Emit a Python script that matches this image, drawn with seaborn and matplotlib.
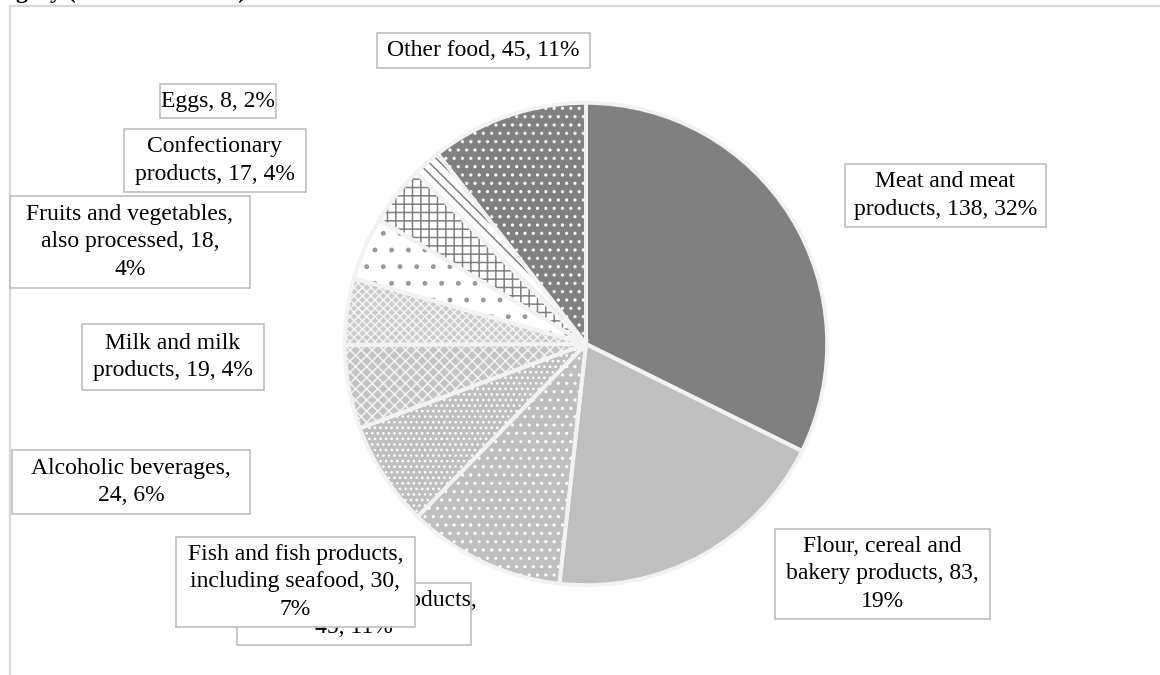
import matplotlib
matplotlib.use("Agg")
import matplotlib.pyplot as plt
import seaborn as sns
from matplotlib.patches import Rectangle
from matplotlib.lines import Line2D

# ---- data ----
categories = [
    "Meat and meat products",
    "Flour, cereal and bakery products",
    "Sugar and sugar products",
    "Fish and fish products, including seafood",
    "Alcoholic beverages",
    "Milk and milk products",
    "Fruits and vegetables, also processed",
    "Confectionary products",
    "Eggs",
    "Other food",
]
counts = [138, 83, 45, 30, 24, 19, 18, 17, 8, 45]
label_texts = [
    "Meat and meat\nproducts, 138, 32%",
    "Flour, cereal and\nbakery products, 83,\n19%",
    "Sugar and sugar products,\n45, 11%",
    "Fish and fish products,\nincluding seafood, 30,\n7%",
    "Alcoholic beverages,\n24, 6%",
    "Milk and milk\nproducts, 19, 4%",
    "Fruits and vegetables,\nalso processed, 18,\n4%",
    "Confectionary\nproducts, 17, 4%",
    "Eggs, 8, 2%",
    "Other food, 45, 11%",
]
title_text = "gory (number of cases)"

# ---- styles ----
face_colors = ["#808080", "#bfbfbf", "#bfbfbf", "#bfbfbf", "#c4c4c4",
               "#cacaca", "#ffffff", "#ffffff", "#ffffff", "#808080"]
hatches = [None, None, "..", "...", "xxx", "xxxx", ".", "++", "\\\\\\", ".."]
hatch_colors = ["#808080", "#bfbfbf", "#ffffff", "#ffffff", "#f4f4f4",
                "#f4f4f4", "#9a9a9a", "#808080", "#808080", "#ffffff"]

# label boxes in pixels: (left, top, right, bottom), drawn in this order
label_boxes = [
    (845, 164, 1046, 227),
    (775, 529, 990, 619),
    (237, 583, 471, 645),
    (176, 537, 415, 627),
    (12, 450, 250, 514),
    (82, 324, 264, 390),
    (10, 196, 250, 288),
    (124, 129, 306, 192),
    (160, 84, 276, 118),
    (377, 33, 590, 68),
]

W, H = 1160, 675
sns.set_theme(style="white")
plt.rcParams["font.family"] = ["Liberation Serif", "DejaVu Serif"]
plt.rcParams["hatch.linewidth"] = 1.1

fig = plt.figure(figsize=(W / 100, H / 100), dpi=100)
fig.patch.set_facecolor("white")

cx, cy, r = 586, 344, 246
ax = fig.add_axes([(cx - r) / W, 1 - (cy + r) / H, 2 * r / W, 2 * r / H])
ax.set_axis_off()

wedges, _ = ax.pie(counts, startangle=90, counterclock=False, colors=face_colors,
                   wedgeprops=dict(linewidth=0))
for w, h, hc in zip(wedges, hatches, hatch_colors):
    w.set_edgecolor(hc)
    w.set_linewidth(0)
    if h:
        w.set_hatch(h)

borders, _ = ax.pie(counts, startangle=90, counterclock=False,
                    wedgeprops=dict(facecolor="none", edgecolor="#f2f2f2", linewidth=2.8))
ax.set_xlim(-1.02, 1.02)
ax.set_ylim(-1.02, 1.02)
ax.set_aspect("equal")

# frame of chart area
fig.add_artist(Line2D([10 / W, 1], [1 - 6 / H, 1 - 6 / H], transform=fig.transFigure,
                      color="#d9d9d9", lw=1.6))
fig.add_artist(Line2D([10 / W, 10 / W], [1 - 6 / H, 0], transform=fig.transFigure,
                      color="#d9d9d9", lw=1.6))

# cut-off title (only the descenders remain visible)
fig.text(16 / W, 1.0 + 2 / H, title_text, ha="left", va="baseline", fontsize=17,
         fontweight="bold", color="black")

# labels
for i, (txt, (l, t, rr, b)) in enumerate(zip(label_texts, label_boxes)):
    rect = Rectangle((l / W, 1 - b / H), (rr - l) / W, (b - t) / H,
                     transform=fig.transFigure, facecolor="white",
                     edgecolor="#bfbfbf", lw=1.2, zorder=10 + 2 * i)
    fig.add_artist(rect)
    fig.text((l + rr) / 2 / W, 1 - (t + b) / 2 / H, txt, ha="center", va="center",
             fontsize=17, linespacing=1.38, color="black", zorder=11 + 2 * i)

fig.savefig("out.png", dpi=100)
